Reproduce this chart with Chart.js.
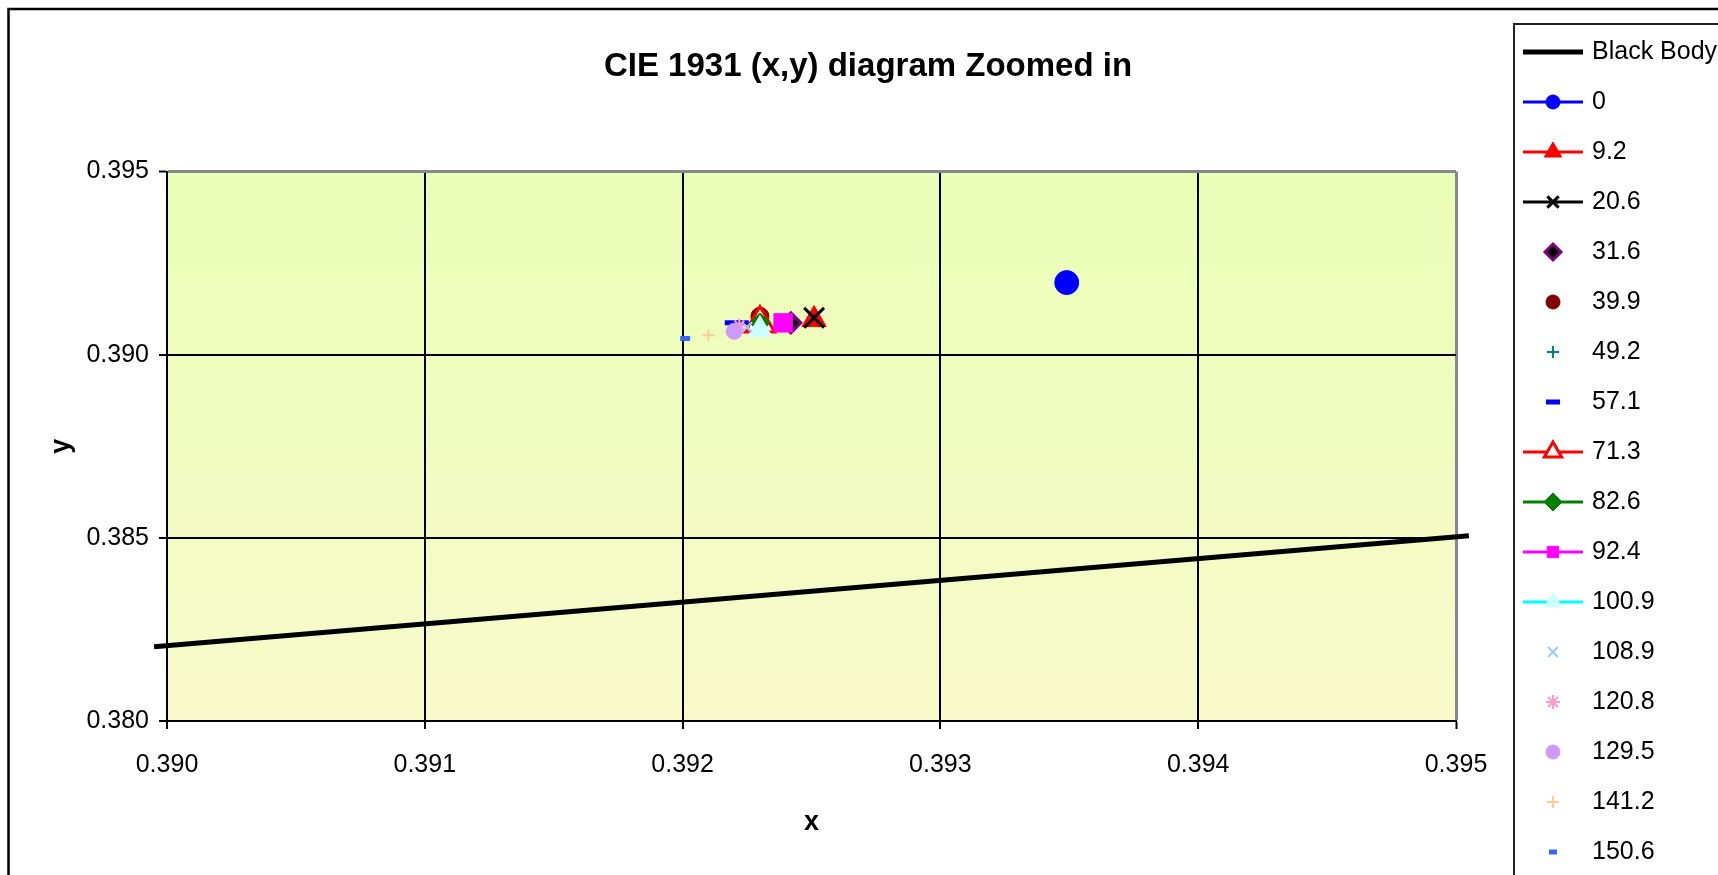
<!DOCTYPE html>
<html>
<head>
<meta charset="utf-8">
<title>CIE 1931 (x,y) diagram Zoomed in</title>
<script src="https://cdn.jsdelivr.net/npm/chart.js@4.4.1/dist/chart.umd.min.js"></script>
<style>
  body { margin: 0; background: #fff; }
  #wrap { width: 1718px; height: 875px; position: relative; }
</style>
</head>
<body>
<div id="wrap"><canvas id="cie"></canvas></div>
<script>
// black body locus (clipped to the zoomed window)
var bbX = [0.38995, 0.39505];
var bbY = [0.38203, 0.38506];

// measured points, one per sample
var names = ["0", "9.2", "20.6", "31.6", "39.9", "49.2", "57.1", "71.3", "82.6", "92.4", "100.9", "108.9", "120.8", "129.5", "141.2", "150.6"];
var xVals = [0.39349, 0.39251, 0.39251, 0.39242, 0.39230, 0.39230, 0.39221, 0.39230, 0.39230, 0.39239, 0.39230, 0.39225, 0.39222, 0.39220, 0.39210, 0.39201];
var yVals = [0.39197, 0.39096, 0.39101, 0.39087, 0.39105, 0.39082, 0.39087, 0.39085, 0.39087, 0.39087, 0.39069, 0.39075, 0.39080, 0.39064, 0.39053, 0.39044];

var xTicks = [0.390, 0.391, 0.392, 0.393, 0.394, 0.395];
var yTicks = [0.380, 0.385, 0.390, 0.395];

// marker look for each sample (plot radius r, legend radius lr)
var looks = [
  {line: "#0000FF", style: "circle",   fill: "#0000FF", border: "#0000FF", bw: 1, r: 12,  lr: 7,  hasLine: true},
  {line: "#FF0000", style: "triangle", fill: "#FF0000", border: "#FF0000", bw: 1, r: 14,  lr: 10, hasLine: true},
  {line: "#000000", style: "crossRot", fill: "#000000", border: "#000000", bw: 3, r: 14,  lr: 8,  hasLine: true},
  {line: null,      style: "rectRot",  fill: "#000000", border: "#800080", bw: 3, r: 10,  lr: 8,  hasLine: false},
  {line: null,      style: "circle",   fill: "#800000", border: "#800000", bw: 1, r: 9,   lr: 7,  hasLine: false},
  {line: null,      style: "cross",    fill: "#008080", border: "#008080", bw: 2, r: 7,   lr: 6,  hasLine: false},
  {line: null,      style: "line",     fill: "#0000FF", border: "#0000FF", bw: 5, r: 12,  lr: 7,  hasLine: false},
  {line: "#FF0000", style: "triangle", fill: "#FFFFFF", border: "#FF0000", bw: 3, r: 17,  lr: 10, hasLine: true},
  {line: "#008000", style: "rectRot",  fill: "#008000", border: "#008000", bw: 1, r: 10,  lr: 9,  hasLine: true},
  {line: "#FF00FF", style: "rect",     fill: "#FF00FF", border: "#FF00FF", bw: 1, r: 13,  lr: 8,  hasLine: true},
  {line: "#00FFFF", style: "triangle", fill: "#CCFFFF", border: "#CCFFFF", bw: 1, r: 14,  lr: 10, hasLine: true},
  {line: null,      style: "crossRot", fill: "#99CCFF", border: "#99CCFF", bw: 2, r: 7,   lr: 7,  hasLine: false},
  {line: null,      style: "star",     fill: "#FF99CC", border: "#FF99CC", bw: 2, r: 7,   lr: 7,  hasLine: false},
  {line: null,      style: "circle",   fill: "#CC99FF", border: "#CC99FF", bw: 1, r: 8,   lr: 7,  hasLine: false},
  {line: null,      style: "cross",    fill: "#FFCC99", border: "#FFCC99", bw: 2, r: 6,   lr: 6,  hasLine: false},
  {line: null,      style: "line",     fill: "#3366FF", border: "#3366FF", bw: 5, r: 5,   lr: 4,  hasLine: false}
];

Chart.defaults.font.family = "'Liberation Sans', Arial, sans-serif";
Chart.defaults.color = "#000";

var datasets = [];
var bbPts = [];
for (var i = 0; i < bbX.length; i++) bbPts.push({x: bbX[i], y: bbY[i]});
datasets.push({
  label: "Black Body",
  data: bbPts,
  showLine: true,
  borderColor: "#000",
  borderWidth: 5,
  pointRadius: 0,
  clip: false,
  order: 100
});
for (var k = 0; k < names.length; k++) {
  var lk = looks[k];
  datasets.push({
    label: names[k],
    data: [{x: xVals[k], y: yVals[k]}],
    pointStyle: lk.style,
    pointRadius: lk.r,
    pointHoverRadius: lk.r,
    pointBackgroundColor: lk.fill,
    pointBorderColor: lk.border,
    pointBorderWidth: lk.bw,
    borderColor: lk.line || lk.border,
    order: names.length - k
  });
}

function isEdge(v) { return Math.abs(v - 0.395) < 1e-9; }

var deco = {
  id: "deco",
  beforeDraw: function(chart) {
    var ctx = chart.ctx, a = chart.chartArea;
    ctx.save();
    var g = ctx.createLinearGradient(0, a.top, 0, a.bottom);
    g.addColorStop(0, "#EAFDB6");
    g.addColorStop(1, "#F8FACA");
    ctx.fillStyle = g;
    ctx.fillRect(a.left, a.top, a.right - a.left, a.bottom - a.top);
    // outer frame
    ctx.strokeStyle = "#000";
    ctx.lineWidth = 2.5;
    ctx.strokeRect(8.5, 9, 1800, 1000);
    ctx.restore();
  },
  afterDraw: function(chart) {
    var ctx = chart.ctx;
    ctx.save();
    ctx.strokeStyle = "#222";
    ctx.lineWidth = 2;
    ctx.strokeRect(1514, 24, 400, 1000);
    ctx.font = "25px 'Liberation Sans', Arial, sans-serif";
    ctx.textBaseline = "middle";
    ctx.textAlign = "left";
    var y0 = 52, step = 50;
    // Black Body entry
    ctx.strokeStyle = "#000";
    ctx.lineWidth = 5;
    ctx.beginPath(); ctx.moveTo(1523, y0); ctx.lineTo(1583, y0); ctx.stroke();
    ctx.fillStyle = "#000";
    ctx.fillText("Black Body", 1592, y0);
    for (var k = 0; k < names.length; k++) {
      var lk = looks[k], y = y0 + (k + 1) * step;
      if (lk.hasLine) {
        ctx.strokeStyle = lk.line;
        ctx.lineWidth = 3;
        ctx.beginPath(); ctx.moveTo(1523, y); ctx.lineTo(1583, y); ctx.stroke();
      }
      ctx.fillStyle = lk.fill;
      ctx.strokeStyle = lk.border;
      ctx.lineWidth = lk.bw;
      Chart.helpers.drawPoint(ctx, {pointStyle: lk.style, radius: lk.lr, rotation: 0, borderWidth: lk.bw}, 1553, y);
      ctx.fillStyle = "#000";
      ctx.fillText(names[k], 1592, y);
    }
    ctx.restore();
  }
};

new Chart(document.getElementById("cie"), {
  type: "scatter",
  data: {datasets: datasets},
  plugins: [deco],
  options: {
    responsive: true,
    maintainAspectRatio: false,
    animation: false,
    layout: {padding: {left: 18, right: 0, top: 0, bottom: 0}},
    plugins: {
      legend: {display: false},
      tooltip: {enabled: false},
      title: {
        display: true,
        text: "CIE 1931 (x,y) diagram Zoomed in",
        font: {size: 33, weight: "bold"},
        color: "#000",
        padding: {top: 47, bottom: 85}
      }
    },
    scales: {
      x: {
        type: "linear",
        min: 0.390,
        max: 0.395,
        afterBuildTicks: function(s) { s.ticks = xTicks.map(function(v) { return {value: v}; }); },
        afterFit: function(s) { s.height = 154; },
        ticks: {
          font: {size: 25},
          padding: 21,
          maxRotation: 0,
          callback: function(v) { return v.toFixed(3); }
        },
        grid: {
          color: function(c) { return c.tick && isEdge(c.tick.value) ? "#888" : "#000"; },
          lineWidth: function(c) { return c.tick && isEdge(c.tick.value) ? 3 : 2; },
          tickColor: "#000",
          tickWidth: 2,
          tickLength: 8
        },
        border: {color: "#000", width: 2},
        title: {display: true, text: "x", font: {size: 27, weight: "bold"}, padding: {top: 0, bottom: 36}}
      },
      y: {
        type: "linear",
        min: 0.380,
        max: 0.395,
        afterBuildTicks: function(s) { s.ticks = yTicks.map(function(v) { return {value: v}; }); },
        afterFit: function(s) { s.width = 149; },
        ticks: {
          font: {size: 25},
          padding: 10,
          callback: function(v) { return v.toFixed(3); }
        },
        grid: {
          color: function(c) { return c.tick && isEdge(c.tick.value) ? "#888" : "#000"; },
          lineWidth: function(c) { return c.tick && isEdge(c.tick.value) ? 3 : 2; },
          tickColor: "#000",
          tickWidth: 2,
          tickLength: 8
        },
        border: {color: "#000", width: 2},
        title: {display: true, text: "y", font: {size: 27, weight: "bold"}, padding: {top: 27, bottom: 0}}
      },
      pad: {
        type: "linear",
        position: "right",
        display: true,
        ticks: {display: false},
        grid: {display: false},
        border: {display: false},
        afterFit: function(s) { s.width = 262; }
      }
    }
  }
});
</script>
</body>
</html>
